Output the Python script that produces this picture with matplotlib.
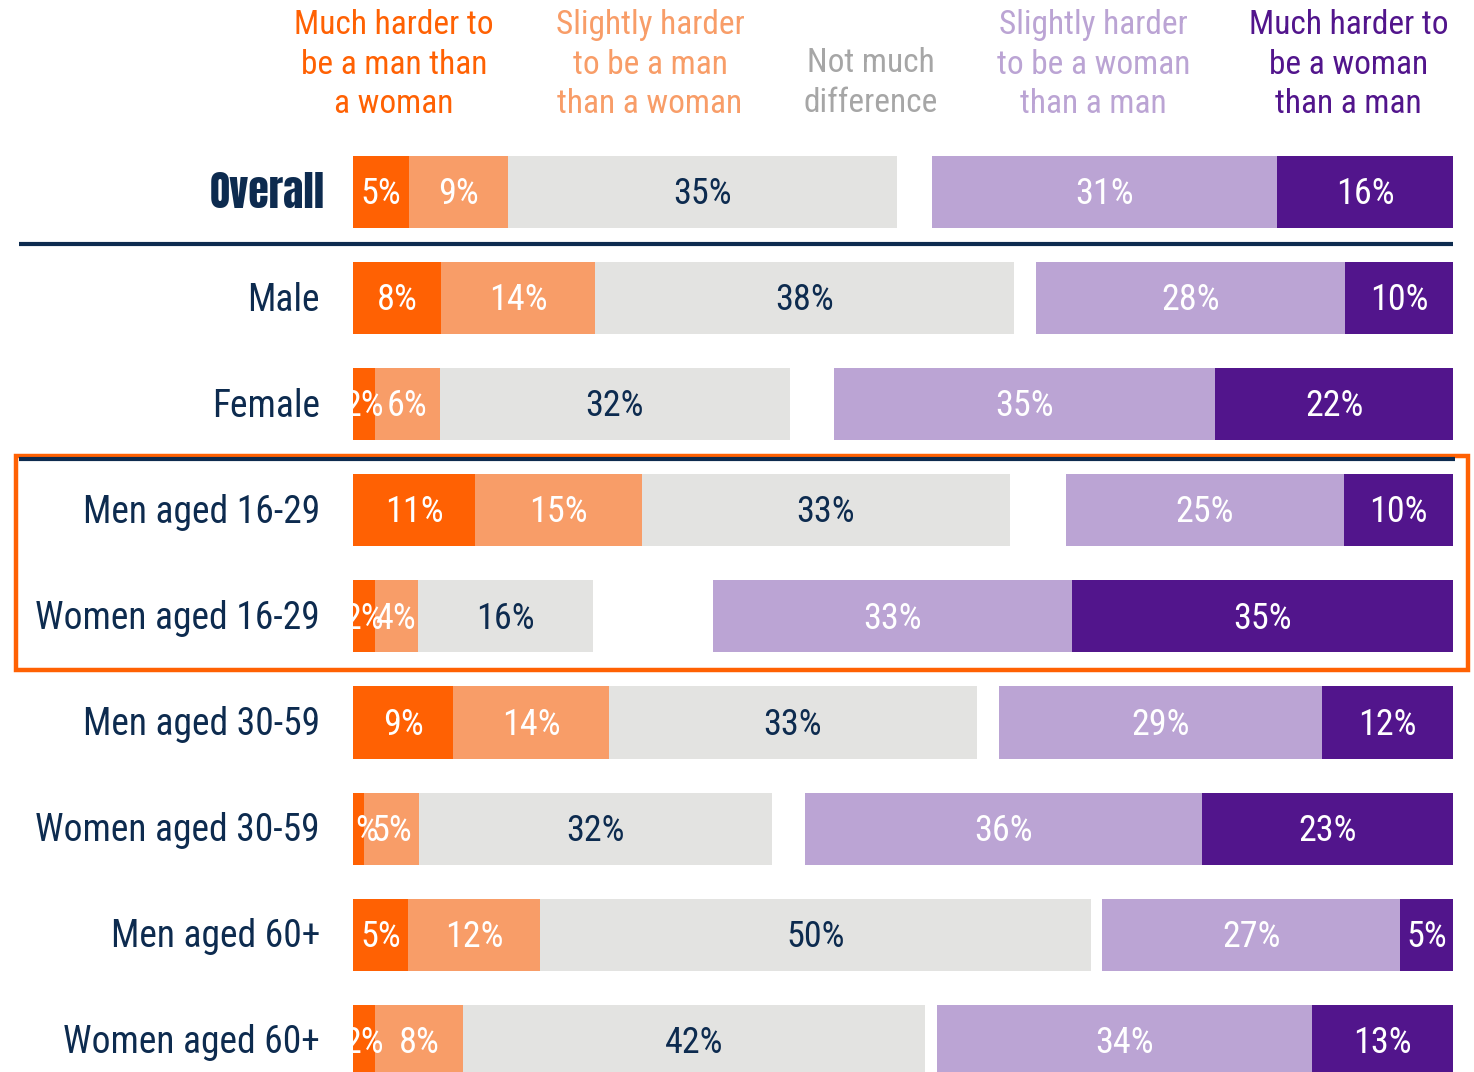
import matplotlib.pyplot as plt
from matplotlib.patches import Rectangle

# survey: is it harder to be a man or a woman?
rows = ['Overall', 'Male', 'Female', 'Men aged 16-29', 'Women aged 16-29',
        'Men aged 30-59', 'Women aged 30-59', 'Men aged 60+', 'Women aged 60+']
much_man = [5.1, 8.0, 2.0, 11.1, 2.0, 9.1, 1.0, 5.0, 2.0]
slight_man = [9.0, 14.0, 5.9, 15.2, 3.9, 14.2, 5.0, 12.0, 8.0]
no_diff = [35.4, 38.1, 31.8, 33.4, 15.9, 33.4, 32.1, 50.1, 42.0]
slight_woman = [31.4, 28.1, 34.7, 25.3, 32.7, 29.4, 36.1, 27.1, 34.1]
much_woman = [16.0, 9.8, 21.6, 9.9, 34.6, 11.9, 22.8, 4.8, 12.8]

headers = ['Much harder to\nbe a man than\na woman',
           'Slightly harder\nto be a man\nthan a woman',
           'Not much\ndifference',
           'Slightly harder\nto be a woman\nthan a man',
           'Much harder to\nbe a woman\nthan a man']
header_x = [3.7, 27.0, 47.1, 67.3, 90.5]

colors = ['#FF6103', '#F89D68', '#E3E3E1', '#BBA4D4', '#52158C']
header_colors = ['#FF6103', '#F89D68', '#A6A6A6', '#BBA4D4', '#52158C']
navy = '#0D2B4F'

narrow = ['Roboto Condensed', 'Archivo Narrow', 'Liberation Sans Narrow',
          'Liberation Sans', 'DejaVu Sans']
heavy = ['Anton', 'Oswald', 'Roboto Condensed', 'Liberation Sans', 'DejaVu Sans']
plt.rcParams['font.family'] = narrow

fig = plt.figure(figsize=(14.74, 10.72), dpi=100)
ax = fig.add_axes([0, 0, 1, 1])
ax.set_xlim(-32.09, 101.91)
ax.set_ylim(8.294, -1.81)
ax.axis('off')

y = list(range(len(rows)))
h = 0.68
for i in y:
    left_parts = [much_man[i], slight_man[i], no_diff[i]]
    right_parts = [slight_woman[i], much_woman[i]]
    starts = [0, much_man[i], much_man[i] + slight_man[i],
              100 - slight_woman[i] - much_woman[i], 100 - much_woman[i]]
    vals = left_parts + right_parts
    for k, (s, v) in enumerate(zip(starts, vals)):
        ax.barh(i, v, left=s, height=h, color=colors[k], linewidth=0)
        tc = navy if k == 2 else 'white'
        ax.text(s + v / 2, i + 0.02, f'{v:.0f}%', ha='center', va='center',
                color=tc, fontsize=26)
    if i == 0:
        ax.text(-2.6, i, rows[i], ha='right', va='center', color=navy,
                fontsize=30, family=heavy)
    else:
        ax.text(-3.0, i + 0.02, rows[i], ha='right', va='center', color=navy,
                fontsize=27)

for hx, ht, hc in zip(header_x, headers, header_colors):
    yy = -1.03 if ht.count('\n') == 1 else -1.20
    ax.text(hx, yy, ht, ha='center', va='center', color=hc, fontsize=24,
            linespacing=1.3)

# divider lines
ax.plot([-30.4, 100], [0.49, 0.49], color=navy, lw=3, solid_capstyle='butt')
ax.plot([-30.4, 100.2], [2.52, 2.52], color=navy, lw=3, solid_capstyle='butt')

# highlight box for 16-29
ax.add_patch(Rectangle((-30.6, 2.488), 132.0, 2.017, fill=False,
                       edgecolor='#FF6103', lw=3.2))

fig.savefig('out.png', dpi=100)
